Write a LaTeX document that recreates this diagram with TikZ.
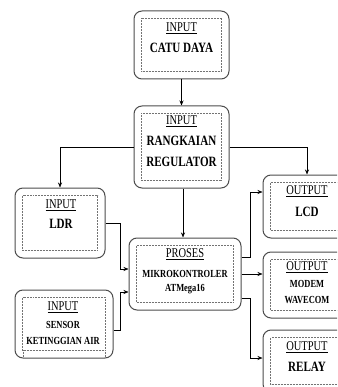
\documentclass[tikz,border=0pt]{standalone}
\usepackage{fontspec}
\setmainfont{Liberation Serif}[FakeStretch=0.78]
\usetikzlibrary{arrows.meta}

\newcommand{\dotbox}[1]{\draw[densely dotted, black!55, line width=0.5pt] ([shift={(8pt,-8pt)}]#1.north west) rectangle ([shift={(-8pt,8pt)}]#1.south east);}

\begin{document}
\begin{tikzpicture}[x=1pt, y=-1pt, font=\rmfamily, line join=miter,
	box/.style={draw=black!70, line width=1pt, rounded corners=8pt, inner sep=0pt},
	head/.style={font=\fontsize{13.4}{15}\selectfont, inner sep=0pt},
	big/.style={font=\fontsize{14.2}{16}\selectfont\bfseries, inner sep=0pt},
	small/.style={font=\fontsize{10.8}{12}\selectfont\bfseries, inner sep=0pt},
	arr/.style={-{Stealth[length=5pt, width=4pt]}, line width=0.6pt}]
	\useasboundingbox (0,0) rectangle (337,387);
	\clip (0,0) rectangle (337,387);

	% Kotak blok
	\node[box, minimum width=95pt, minimum height=68pt] (catu) at (181.5, 45) {};
	\node[box, minimum width=95pt, minimum height=82pt] (reg) at (181.5, 147) {};
	\node[box, minimum width=90pt, minimum height=70pt] (ldr) at (60, 223) {};
	\node[box, minimum width=98pt, minimum height=68pt] (sensor) at (64, 324) {};
	\node[box, minimum width=112pt, minimum height=72pt] (proses) at (185, 274) {};
	\node[box, minimum width=88pt, minimum height=63pt] (lcd) at (307, 206.5) {};
	\node[box, minimum width=88pt, minimum height=66pt] (modem) at (307, 285) {};
	\node[box, minimum width=88pt, minimum height=62pt] (relay) at (307, 361) {};
	\dotbox{catu} \dotbox{reg} \dotbox{ldr} \dotbox{sensor}
	\dotbox{proses} \dotbox{lcd} \dotbox{modem} \dotbox{relay}
	\draw[densely dotted, black!55, line width=0.5pt] (23, 350) -- (23, 357) (105, 350) -- (105, 357);

	% Teks
	\node[head] (catuH) at (181.5, 28) {\underline{INPUT}};
	\node[big] (catuT) at (181.5, 48) {CATU DAYA};
	\node[head] (regH) at (181.5, 121) {\underline{INPUT}};
	\node[big] (regT) at (181.5, 141) {RANGKAIAN};
	\node[big] (regU) at (181.5, 162) {REGULATOR};
	\node[head] (ldrH) at (61, 205) {\underline{INPUT}};
	\node[big] (ldrT) at (61, 224) {LDR};
	\node[head] (sensorH) at (63, 307) {\underline{INPUT}};
	\node[small] (sensorT) at (63, 325) {SENSOR};
	\node[small] (sensorU) at (63, 341) {KETINGGIAN AIR};
	\node[head] (prosesH) at (185, 254) {\underline{PROSES}};
	\node[small] (prosesT) at (185, 274) {MIKROKONTROLER};
	\node[small] (prosesU) at (185, 289) {ATMega16};
	\node[head] (lcdH) at (307, 191) {\underline{OUTPUT}};
	\node[big] (lcdT) at (307, 212) {LCD};
	\node[head] (modemH) at (307, 267) {\underline{OUTPUT}};
	\node[small] (modemT) at (307, 284) {MODEM};
	\node[small] (modemU) at (307, 300) {WAVECOM};
	\node[head] (relayH) at (307, 347) {\underline{OUTPUT}};
	\node[big] (relayT) at (307, 367) {RELAY};

	% Panah
	\draw[arr] (catu) -- (reg);
	\draw[arr] (reg.west) -| (ldr.north);
	\draw[arr] (reg.east) -| (lcd.north);
	\draw[arr] ([xshift=1.5pt]reg.south) -- ([xshift=-2pt]proses.north);
	\draw[arr] (ldr.east) -- ++(15, 0) |- ([yshift=5pt]proses.west);
	\draw[arr] ([yshift=-6pt]sensor.east) -- ++(7, 0) |- ([yshift=-18pt]proses.west);
	\draw[arr] ([yshift=17pt]proses.east) -- ++(9, 0) |- ([yshift=14.5pt]lcd.west);
	\draw[arr] (proses.east) -- (proses.east -| modem.west);
	\draw[arr] ([yshift=-24pt]proses.east) -- ++(9, 0) |- ([yshift=3pt]relay.west);
\end{tikzpicture}
\end{document}
